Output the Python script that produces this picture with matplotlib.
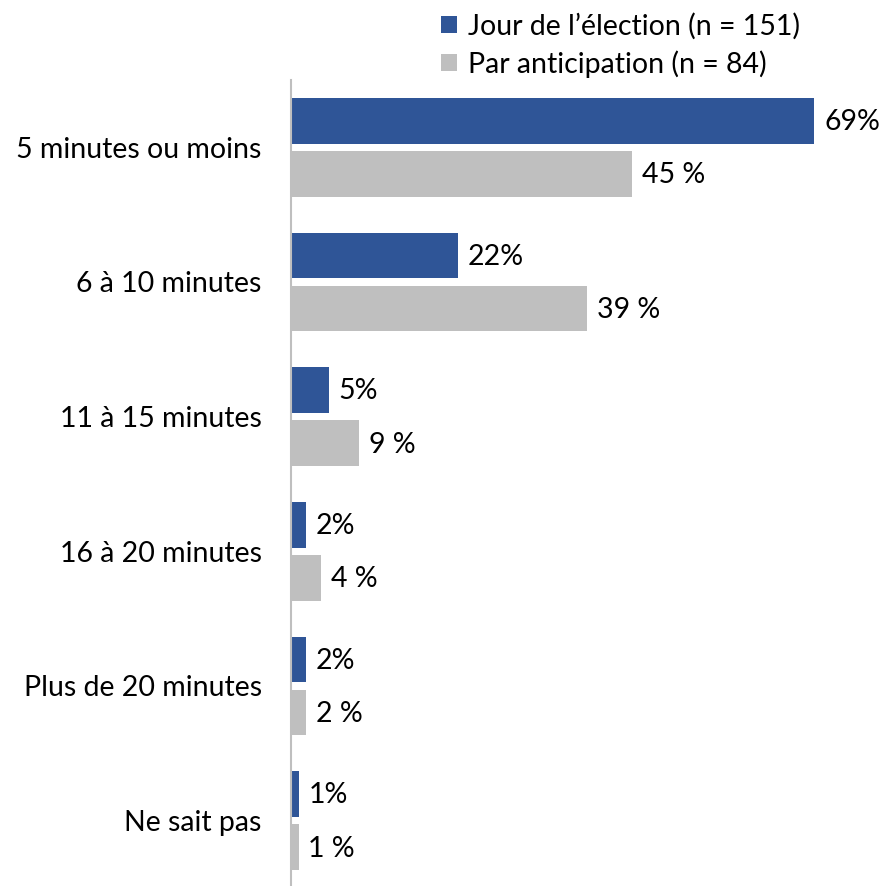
import numpy as np
import matplotlib
matplotlib.use("Agg")
import matplotlib.pyplot as plt

plt.rcParams['font.family'] = ['Lato', 'DejaVu Sans']

categories = ["5 minutes ou moins", "6 à 10 minutes", "11 à 15 minutes",
              "16 à 20 minutes", "Plus de 20 minutes", "Ne sait pas"]
jour = [69, 22, 5, 2, 2, 1]
anticip = [45, 39, 9, 4, 2, 1]
series_names = ["Jour de l\u2019élection (n = 151)", "Par anticipation (n = 84)"]

blue = "#2F5597"
grey = "#BFBFBF"

fig = plt.figure(figsize=(8.84, 8.86), dpi=100)
# axes in pixel terms: left 291, top 80, width ~584
ax = fig.add_axes([291/884, 1 - 888/886, 584/884, 808/886])

y = np.arange(len(categories))
h = 0.34
off = 0.197
b1 = ax.barh(y - off, jour, height=h, color=blue, label=series_names[0])
b2 = ax.barh(y + off, anticip, height=h, color=grey, label=series_names[1])

fs = 20.5
for rect, v in zip(b1, jour):
    ax.text(rect.get_width() + 1.3, rect.get_y() + rect.get_height()/2 + 0.01, f"{v}%",
            va="center", ha="left", fontsize=fs, color="black")
for rect, v in zip(b2, anticip):
    ax.text(rect.get_width() + 1.3, rect.get_y() + rect.get_height()/2 + 0.01, f"{v} %",
            va="center", ha="left", fontsize=fs, color="black")

ax.set_xlim(0, 77)
ax.set_ylim(5.5, -0.5)
ax.set_yticks(y)
ax.set_yticklabels(categories, fontsize=fs)
ax.tick_params(axis="y", length=0, pad=21)
ax.set_xticks([])
for s in ["top", "right", "bottom"]:
    ax.spines[s].set_visible(False)
ax.spines["left"].set_color("#BFBFBF")
ax.spines["left"].set_linewidth(1.5)

ax.legend(loc="upper left", bbox_to_anchor=(430/884, 1 - 1/886),
          bbox_transform=fig.transFigure, frameon=False, fontsize=fs,
          handlelength=0.55, handleheight=0.55, handletextpad=0.4,
          labelspacing=0.38, borderaxespad=0)

fig.savefig("out.png", dpi=100)
